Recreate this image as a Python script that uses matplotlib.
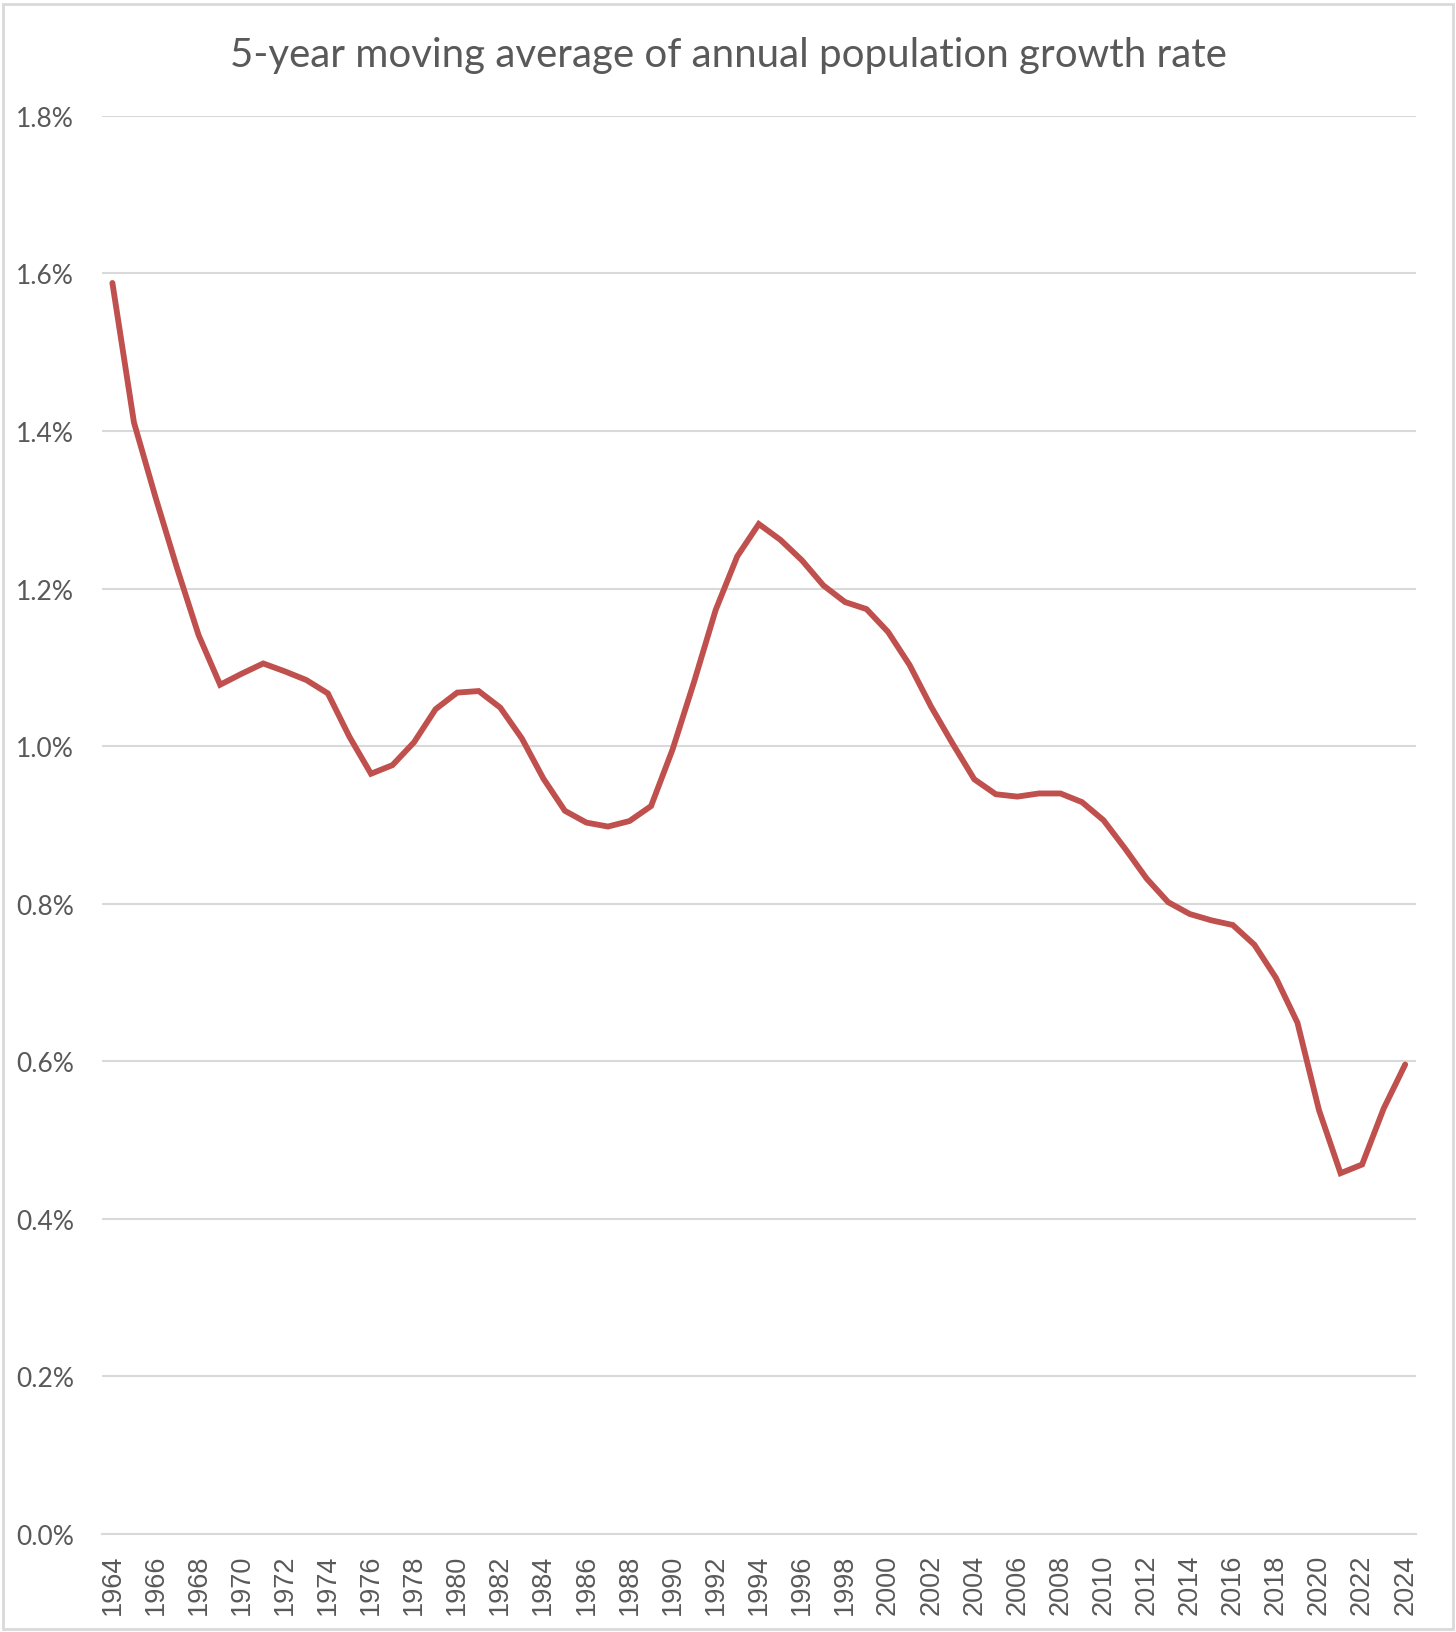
#!/usr/bin/env python
import numpy as np
import matplotlib
matplotlib.use('Agg')
import matplotlib.pyplot as plt
from matplotlib.ticker import FuncFormatter, MultipleLocator
from matplotlib.patches import Rectangle

years = list(range(1964, 2025))

# 5-year moving average of annual population growth, percent
growth_pct = [1.588, 1.411, 1.316, 1.226, 1.141, 1.078, 1.092, 1.105, 1.095, 1.084,
              1.067, 1.012, 0.965, 0.976, 1.005, 1.047, 1.068, 1.070, 1.049, 1.010,
              0.959, 0.918, 0.903, 0.898, 0.905, 0.924, 0.996, 1.082, 1.173, 1.241,
              1.282, 1.262, 1.236, 1.204, 1.183, 1.174, 1.145, 1.103, 1.050, 1.003,
              0.958, 0.939, 0.936, 0.940, 0.940, 0.929, 0.906, 0.870, 0.832, 0.802,
              0.787, 0.779, 0.773, 0.748, 0.706, 0.649, 0.538, 0.458, 0.469, 0.540,
              0.596]

title = "5-year moving average of annual population growth rate"

textColor = '#595959'
lineColor = '#C0504D'
gridColor = '#D9D9D9'

fig = plt.figure(figsize=(14.56, 16.33), dpi=100)
ax = fig.add_axes([0.0698, 0.060, 0.9027, 0.8684])

ax.plot(years, growth_pct, color=lineColor, linewidth=4.2, solid_joinstyle='miter',
        solid_capstyle='round', zorder=3)

ax.set_xlim(1963.5, 2024.5)
ax.set_ylim(0, 1.8)
ax.yaxis.set_major_locator(MultipleLocator(0.2))
ax.yaxis.set_major_formatter(FuncFormatter(lambda v, p : "%.1f%%" % v))
ax.set_xticks(years[::2])
ax.set_xticklabels([str(y) for y in years[::2]], rotation=90,
                   fontfamily='Liberation Sans', fontsize=19.5, color=textColor)

ax.grid(axis='y', color=gridColor, linewidth=1.5, zorder=0)
ax.tick_params(axis='both', length=0)
ax.tick_params(axis='x', pad=14)
ax.tick_params(axis='y', pad=20, labelsize=19, labelcolor=textColor)
for lab in ax.get_yticklabels() :
    lab.set_fontfamily('Lato')

for side in ['top', 'right', 'left'] :
    ax.spines[side].set_visible(False)
ax.spines['bottom'].set_color(gridColor)
ax.spines['bottom'].set_linewidth(1.5)

fig.text(0.5, 0.966, title, ha='center', va='center', fontsize=29,
         fontfamily='Lato', color=textColor)

# light chart-area border
fig.patches.append(Rectangle((0.002, 0.002), 0.996, 0.995, transform=fig.transFigure,
                             fill=False, edgecolor=gridColor, linewidth=2))

fig.savefig('out.png', dpi=100)
